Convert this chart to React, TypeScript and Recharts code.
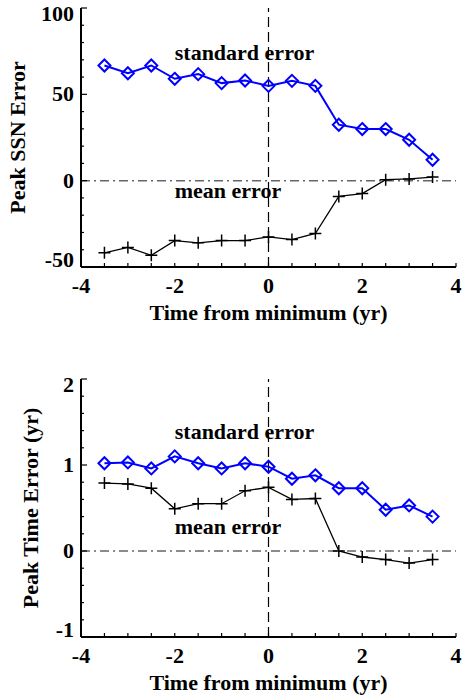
import { LineChart, Line, XAxis, YAxis, ReferenceLine, ReferenceDot } from 'recharts';

const times = [-3.5, -3, -2.5, -2, -1.5, -1, -0.5, 0, 0.5, 1, 1.5, 2, 2.5, 3, 3.5];
const ssnStdError = [66.7, 62.2, 66.7, 59.0, 61.7, 56.5, 58.0, 54.9, 57.8, 54.9, 32.4, 29.9, 29.9, 23.7, 12.1];
const ssnMeanError = [-41.8, -38.7, -43.2, -34.7, -36.0, -34.7, -34.7, -32.6, -34.1, -30.6, -9.1, -7.5, 0.6, 1.0, 2.1];
const timeStdError = [1.02, 1.03, 0.96, 1.10, 1.02, 0.96, 1.02, 0.98, 0.84, 0.88, 0.73, 0.73, 0.48, 0.53, 0.40];
const timeMeanError = [0.79, 0.78, 0.73, 0.49, 0.55, 0.55, 0.70, 0.74, 0.60, 0.61, 0.0, -0.07, -0.10, -0.14, -0.10];

const xMajorTicks = [-4, -2, 0, 2, 4];
const xAllTicks = [-4, -3.5, -3, -2.5, -2, -1.5, -1, -0.5, 0, 0.5, 1, 1.5, 2, 2.5, 3, 3.5, 4];
const ssnMajorTicks = [-50, 0, 50, 100];
const ssnAllTicks = [-50, -40, -30, -20, -10, 0, 10, 20, 30, 40, 50, 60, 70, 80, 90, 100];
const timeMajorTicks = [-1, 0, 1, 2];
const timeAllTicks = [-1, -0.8, -0.6, -0.4, -0.2, 0, 0.2, 0.4, 0.6, 0.8, 1, 1.2, 1.4, 1.6, 1.8, 2];

const FONT = '"Liberation Serif", "Times New Roman", serif';
const textStyle = { fontFamily: FONT, fontWeight: 700, fontSize: 22, fill: '#000' };
const X_TICK_LEN = 4;
const Y_MAJOR_LEN = 6;
const Y_MINOR_LEN = 3;

const isMajor = (v: number, majors: number[]) => majors.some((m) => Math.abs(m - v) < 1e-9);

function Diamond(props: any) {
  const { cx, cy, index } = props;
  if (cx == null || cy == null) return null;
  const r = 6;
  return (
    <path
      key={`d${index}`}
      d={`M${cx},${cy - r}L${cx + r},${cy}L${cx},${cy + r}L${cx - r},${cy}Z`}
      fill="none"
      stroke="#0000ff"
      strokeWidth={2}
    />
  );
}

function Plus(props: any) {
  const { cx, cy, index } = props;
  if (cx == null || cy == null) return null;
  const r = 6;
  return (
    <path
      key={`p${index}`}
      d={`M${cx - r},${cy}L${cx + r},${cy}M${cx},${cy - r}L${cx},${cy + r}`}
      stroke="#000"
      strokeWidth={1.5}
    />
  );
}

interface PanelProps {
  std: number[];
  mean: number[];
  yDomain: [number, number];
  yMajor: number[];
  yAll: number[];
  yTitle: string;
  yTitleX: number;
  height: number;
  marginTop: number;
  xAxisHeight: number;
  stdLabelY: number;
  meanLabelY: number;
}

function Panel(p: PanelProps) {
  const data = times.map((t, i) => ({ t, std: p.std[i], mean: p.mean[i] }));
  const [yMin, yMax] = p.yDomain;

  const bottomTick = (props: any) => {
    const { x, y } = props;
    return <line x1={x} y1={y} x2={x} y2={y - X_TICK_LEN} stroke="#000" strokeWidth={1.2} />;
  };

  const topTick = (props: any) => {
    const { x, y } = props;
    return <line x1={x} y1={y} x2={x} y2={y + X_TICK_LEN - 1} stroke="#000" strokeWidth={1.2} />;
  };

  const leftTick = (props: any) => {
    const { x, y, payload } = props;
    const major = isMajor(payload.value, p.yMajor);
    return <line x1={x} y1={y} x2={x + (major ? Y_MAJOR_LEN : Y_MINOR_LEN)} y2={y} stroke="#000" strokeWidth={1.2} />;
  };

  const rightTick = (props: any) => {
    const { x, y, payload } = props;
    const major = isMajor(payload.value, p.yMajor);
    return <line x1={x} y1={y} x2={x - (major ? Y_MAJOR_LEN : Y_MINOR_LEN)} y2={y} stroke="#000" strokeWidth={1.2} />;
  };

  return (
    <LineChart
      width={463}
      height={p.height}
      data={data}
      margin={{ top: p.marginTop, right: 7, left: 0, bottom: 0 }}
    >
      <XAxis
        xAxisId="b"
        type="number"
        dataKey="t"
        domain={[-4, 4]}
        ticks={xAllTicks}
        interval={0}
        height={p.xAxisHeight}
        tickSize={0}
        tickMargin={0}
        tickLine={false}
        tick={bottomTick}
        axisLine={{ stroke: '#000', strokeWidth: 2 }}
        label={{
          content: (lp: any) => {
            const vb = lp.viewBox;
            return (
              <text x={vb.x + vb.width / 2} y={vb.y + 53} textAnchor="middle" style={textStyle}>
                Time from minimum (yr)
              </text>
            );
          },
        }}
      />
      <XAxis
        xAxisId="t"
        orientation="top"
        type="number"
        dataKey="t"
        domain={[-4, 4]}
        ticks={xAllTicks}
        interval={0}
        height={0}
        tickSize={0}
        tickMargin={0}
        tickLine={false}
        tick={topTick}
        axisLine={{ stroke: '#000', strokeWidth: 2 }}
      />
      <YAxis
        yAxisId="l"
        type="number"
        domain={p.yDomain}
        ticks={p.yAll}
        interval={0}
        width={81}
        tickSize={0}
        tickMargin={0}
        tickLine={false}
        tick={leftTick}
        allowDataOverflow
        axisLine={{ stroke: '#000', strokeWidth: 2 }}
        label={{
          content: (lp: any) => {
            const vb = lp.viewBox;
            const cy = vb.y + vb.height / 2;
            return (
              <text
                x={p.yTitleX}
                y={cy}
                transform={`rotate(-90 ${p.yTitleX} ${cy})`}
                textAnchor="middle"
                style={textStyle}
              >
                {p.yTitle}
              </text>
            );
          },
        }}
      />
      <YAxis
        yAxisId="r"
        orientation="right"
        type="number"
        domain={p.yDomain}
        ticks={p.yAll}
        interval={0}
        width={0}
        tickSize={0}
        tickMargin={0}
        tickLine={false}
        tick={rightTick}
        allowDataOverflow
        axisLine={{ stroke: '#000', strokeWidth: 2 }}
      />
      <ReferenceLine xAxisId="b" yAxisId="l" x={0} stroke="#000" strokeWidth={1.2} strokeDasharray="10 5" />
      <ReferenceLine xAxisId="b" yAxisId="l" y={0} stroke="#666" strokeWidth={1.5} strokeDasharray="9 4 2 4" />
      {/* tick labels, placed through the axis scales */}
      {xMajorTicks.map((v) => (
        <ReferenceDot
          key={`xl${v}`}
          xAxisId="b"
          yAxisId="l"
          x={v}
          y={yMin}
          r={0}
          ifOverflow="visible"
          shape={(sp: any) => (
            <text x={sp.cx} y={sp.cy + 26} textAnchor="middle" style={textStyle}>
              {String(v)}
            </text>
          )}
        />
      ))}
      {p.yMajor.map((v) => {
        let shift = 0;
        if (v === yMax) shift = 6;
        if (v === yMin) shift = -7;
        return (
          <ReferenceDot
            key={`yl${v}`}
            xAxisId="b"
            yAxisId="l"
            x={-4}
            y={v}
            r={0}
            ifOverflow="visible"
            shape={(sp: any) => (
              <text x={sp.cx - 7} y={sp.cy + shift + 7} textAnchor="end" style={textStyle}>
                {String(v)}
              </text>
            )}
          />
        );
      })}
      <ReferenceDot
        xAxisId="b"
        yAxisId="l"
        x={-2}
        y={p.stdLabelY}
        r={0}
        shape={(sp: any) => (
          <text x={sp.cx} y={sp.cy} style={textStyle}>
            standard error
          </text>
        )}
      />
      <ReferenceDot
        xAxisId="b"
        yAxisId="l"
        x={-2}
        y={p.meanLabelY}
        r={0}
        shape={(sp: any) => (
          <text x={sp.cx} y={sp.cy} style={textStyle}>
            mean error
          </text>
        )}
      />
      <Line
        xAxisId="b"
        yAxisId="l"
        type="linear"
        dataKey="mean"
        stroke="#000"
        strokeWidth={1.3}
        dot={Plus}
        isAnimationActive={false}
      />
      <Line
        xAxisId="b"
        yAxisId="l"
        type="linear"
        dataKey="std"
        stroke="#0000ff"
        strokeWidth={2}
        dot={Diamond}
        isAnimationActive={false}
      />
    </LineChart>
  );
}

export default function App() {
  return (
    <div style={{ position: 'absolute', left: 0, top: 0, width: 463, height: 698, overflow: 'hidden', background: '#fff' }}>
      <div style={{ position: 'absolute', left: 0, top: 0 }}>
        <Panel
          std={ssnStdError}
          mean={ssnMeanError}
          yDomain={[-50, 100]}
          yMajor={ssnMajorTicks}
          yAll={ssnAllTicks}
          yTitle="Peak SSN Error"
          yTitleX={25}
          height={340}
          marginTop={8}
          xAxisHeight={73}
          stdLabelY={70}
          meanLabelY={-10}
        />
      </div>
      <div style={{ position: 'absolute', left: 0, top: 370 }}>
        <Panel
          std={timeStdError}
          mean={timeMeanError}
          yDomain={[-1, 2]}
          yMajor={timeMajorTicks}
          yAll={timeAllTicks}
          yTitle="Peak Time Error (yr)"
          yTitleX={38}
          height={327}
          marginTop={9}
          xAxisHeight={60}
          stdLabelY={1.3}
          meanLabelY={0.2}
        />
      </div>
    </div>
  );
}
